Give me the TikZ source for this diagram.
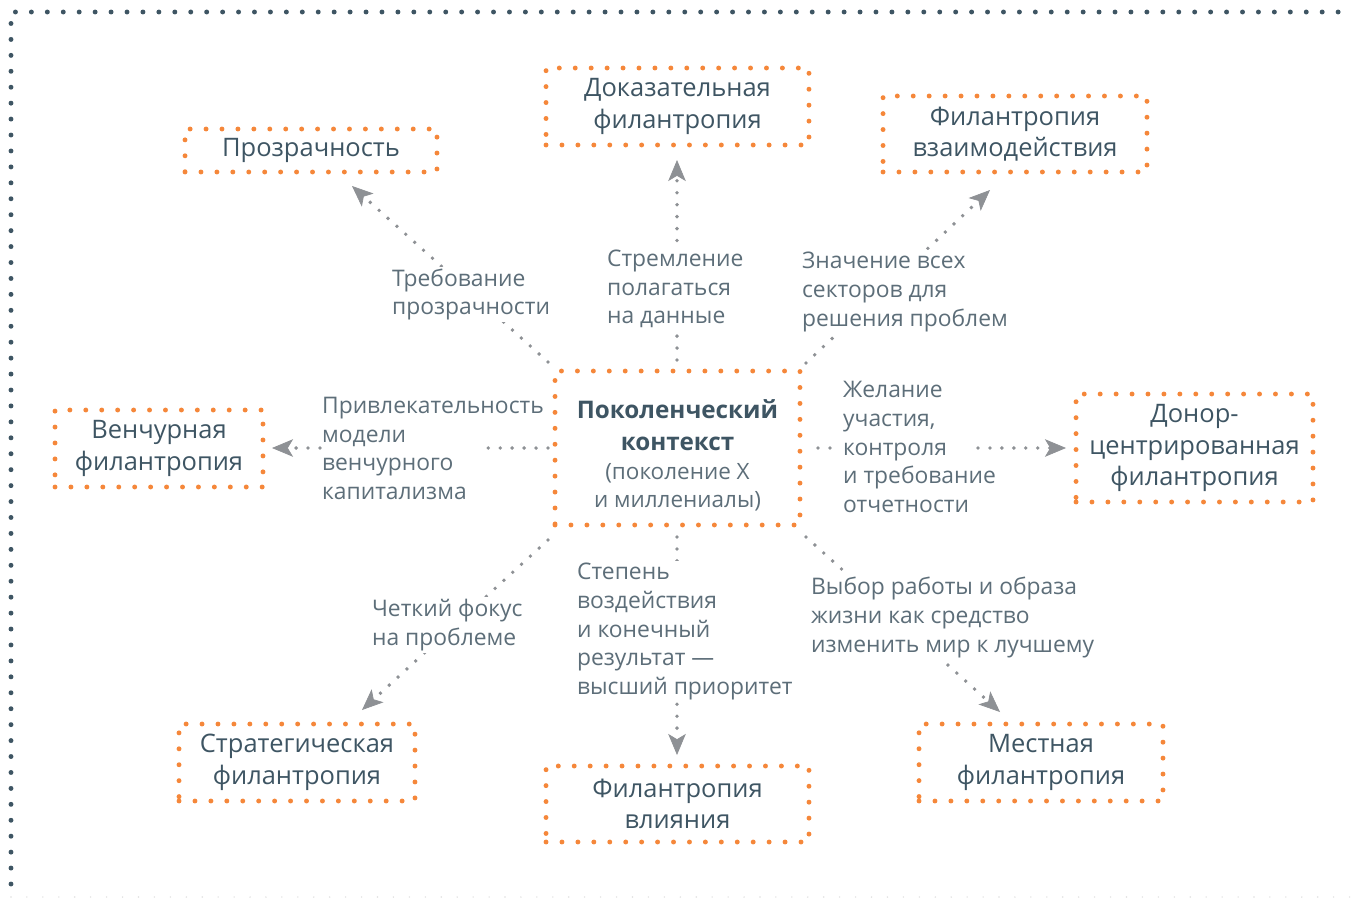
\documentclass[tikz,border=0pt]{standalone}
\usepackage{fontspec}
\setmainfont{Open Sans}
\usetikzlibrary{arrows.meta}
\definecolor{boxorange}{HTML}{F5873A}
\definecolor{slate}{HTML}{3E5563}
\definecolor{softslate}{HTML}{5D6E79}
\definecolor{conngray}{HTML}{8E9195}
\tikzset{
  frame/.style={draw=slate, line width=2.8pt, dash pattern=on 0pt off 9.07pt, line cap=round},
  box/.style={draw=boxorange, line width=2.8pt, dash pattern=on 0pt off 9.07pt, line cap=round,
    text=slate, align=center, font=\fontsize{14.5}{18}\selectfont, inner sep=0pt},
  dots/.style={draw=conngray, line width=2.2pt, dash pattern=on 0pt off 6.8pt, line cap=round},
  conn/.style={dots, -{Stealth[length=12pt, width=10pt, inset=3pt, line width=0.4pt]}},
  lbl/.style={text=softslate, align=left, anchor=west, font=\fontsize{13}{16.4}\selectfont, inner sep=1pt}
}
\begin{document}
\begin{tikzpicture}[x=0.02cm,y=-0.02cm]
  \useasboundingbox (0,0) rectangle (1351,899);
  % frame
  \draw[frame] (11,884) -- (11,12) -- (1340,12);
  \draw[gray!25, line width=0.9pt, dash pattern=on 0pt off 9.07pt, line cap=round] (11,897) -- (1351,897);

  % boxes
  \node[box, minimum width=4.9cm, minimum height=3.08cm] (ctx) at (677.5,448) {};
  \node[text=slate, align=center, font=\fontsize{13.8}{18}\selectfont, inner sep=0pt] (ctxtext) at (677.5,455.5)
    {\textbf{Поколенческий}\\\textbf{контекст}\\[-1pt]{\fontsize{12.8}{16}\selectfont\color{softslate}(поколение X}\\[-2pt]{\fontsize{12.8}{16}\selectfont\color{softslate}и миллениалы)}};
  \node[box, minimum width=5.04cm, minimum height=0.86cm] (prozr) at (311,150.5) {Прозрачность};
  \node[box, minimum width=5.26cm, minimum height=1.54cm] (dokaz) at (677.5,106.5) {Доказательная\\филантропия};
  \node[box, minimum width=5.28cm, minimum height=1.52cm] (vzaim) at (1015,134) {Филантропия\\взаимодействия};
  \node[box, minimum width=4.16cm, minimum height=1.54cm] (vench) at (159,448.5) {Венчурная\\филантропия};
  \node[box, minimum width=4.74cm, minimum height=2.16cm] (donor) at (1194.5,448) {Донор-\\центрированная\\филантропия};
  \node[box, minimum width=4.72cm, minimum height=1.54cm] (strat) at (297,762.5) {Стратегическая\\филантропия};
  \node[box, minimum width=5.26cm, minimum height=1.52cm] (vliya) at (677.5,804) {Филантропия\\влияния};
  \node[box, minimum width=4.88cm, minimum height=1.54cm] (mestn) at (1041,762.5) {Местная\\филантропия};

  % connector ends
  \coordinate (a1) at (548,362);  \coordinate (b1) at (352,186);
  \coordinate (a2) at (677,360);  \coordinate (b2) at (677,160);
  \coordinate (a3) at (806,363);  \coordinate (b3) at (990,190);
  \coordinate (a4) at (548,448);  \coordinate (c4) at (477,448);
  \coordinate (d4) at (320,448);  \coordinate (b4) at (272,448);
  \coordinate (a5) at (818,448);  \coordinate (c5) at (830,448);
  \coordinate (d5) at (978,448);  \coordinate (b5) at (1066,448);
  \coordinate (a6) at (548,540);  \coordinate (b6) at (362,710);
  \coordinate (a7) at (677,537);  \coordinate (b7) at (677,755);
  \coordinate (a8) at (806,537);  \coordinate (b8) at (1000,712);

  % connectors
  \draw[conn] (a1) -- (b1);
  \draw[conn] (a2) -- (b2);
  \draw[conn] (a3) -- (b3);
  \draw[dots] (a4) -- (c4);
  \draw[conn] (d4) -- (b4);
  \draw[dots] (a5) -- (c5);
  \draw[conn] (d5) -- (b5);
  \draw[conn] (a6) -- (b6);
  \draw[conn] (a7) -- (b7);
  \draw[conn] (a8) -- (b8);

  % labels
  \node[lbl, fill=white] (l1) at (390,294.5) {Требование\\прозрачности};
  \node[lbl, fill=white] (l2) at (605,289) {Стремление\\полагаться\\на данные};
  \node[lbl, fill=white] (l3) at (800,292) {Значение всех\\секторов для\\решения проблем};
  \node[lbl] (l4) at (320,448.5) {Привлекательность\\модели\\венчурного\\капитализма};
  \node[lbl] (l5) at (841,447) {Желание\\участия,\\контроля\\и требование\\отчетности};
  \node[lbl, fill=white] (l6) at (370,625) {Четкий фокус\\на проблеме};
  \node[lbl, fill=white] (l7) at (575,631.5) {Степень\\воздействия\\и конечный\\результат —\\высший приоритет};
  \node[lbl, fill=white] (l8) at (809,617.5) {Выбор работы и образа\\жизни как средство\\изменить мир к лучшему};
\end{tikzpicture}
\end{document}
